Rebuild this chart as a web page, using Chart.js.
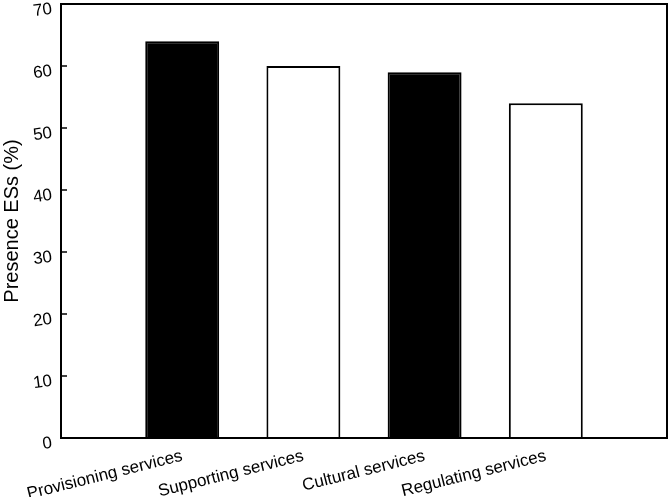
<!DOCTYPE html>
<html>
<head>
<meta charset="utf-8">
<script src="https://cdn.jsdelivr.net/npm/chart.js@4.4.0/dist/chart.umd.min.js"></script>
<style>
  body { margin: 0; background: #fff; }
  #wrap { width: 669px; height: 497px; }
</style>
</head>
<body>
<div id="wrap"><canvas id="esChart" width="669" height="497"></canvas></div>
<script>
// chart values
const categories = ['Provisioning services', 'Supporting services', 'Cultural services', 'Regulating services'];
const presence = [64, 60, 59, 54];
const yTicks = [0, 10, 20, 30, 40, 50, 60, 70];

const FONT = '"Liberation Sans", Arial, Helvetica, sans-serif';

// frame, inward tick marks and slightly tilted y labels
const framePlugin = {
    id: 'frame',
    afterDraw(chart) {
        const { ctx, chartArea: a, scales } = chart;
        ctx.save();
        ctx.strokeStyle = '#000';
        ctx.lineWidth = 2;
        ctx.strokeRect(a.left, a.top, a.right - a.left, a.bottom - a.top);
        ctx.lineWidth = 1.5;
        yTicks.forEach((v, i) => {
            const y = scales.y.getPixelForValue(v);
            if (i > 0 && i < yTicks.length - 1) {
                ctx.beginPath();
                ctx.moveTo(a.left, y);
                ctx.lineTo(a.left + 6, y);
                ctx.stroke();
            }
            ctx.save();
            ctx.translate(a.left - 9, y + 5);
            ctx.rotate(-8 * Math.PI / 180);
            ctx.fillStyle = '#000';
            ctx.font = '17px ' + FONT;
            ctx.textAlign = 'right';
            ctx.textBaseline = 'middle';
            ctx.fillText(String(v), 0, 0);
            ctx.restore();
        });
        ctx.restore();
    }
};

const ctx = document.getElementById('esChart').getContext('2d');

new Chart(ctx, {
    type: 'bar',
    data: {
        labels: ['', ...categories, ''],
        datasets: [{
            data: categories.map((c, i) => ({ x: c, y: presence[i] })),
            backgroundColor: ['#000', '#fff', '#000', '#fff'],
            borderColor: '#000',
            borderWidth: 2,
            barPercentage: 0.61,
            categoryPercentage: 1
        }]
    },
    options: {
        responsive: false,
        animation: false,
        layout: { padding: { top: 4, right: 2, left: 0, bottom: 0 } },
        plugins: {
            legend: { display: false },
            tooltip: { enabled: false }
        },
        scales: {
            x: {
                type: 'category',
                offset: false,
                grid: { display: false },
                border: { display: false },
                afterFit: s => { s.height = 59; s.paddingLeft = 0; s.paddingRight = 0; },
                ticks: {
                    autoSkip: false,
                    minRotation: 14,
                    maxRotation: 14,
                    padding: 0,
                    color: '#000',
                    font: { family: FONT, size: 17 }
                }
            },
            y: {
                min: 0,
                max: 70,
                afterBuildTicks: s => { s.ticks = yTicks.map(v => ({ value: v })); },
                afterFit: s => { s.width = 61; s.paddingTop = 0; s.paddingBottom = 0; },
                grid: { display: false },
                border: { display: false },
                ticks: { display: false },
                title: {
                    display: true,
                    text: 'Presence ESs (%)',
                    color: '#000',
                    font: { family: FONT, size: 20 },
                    padding: { top: 0, bottom: 40 }
                }
            }
        }
    },
    plugins: [framePlugin]
});
</script>
</body>
</html>
